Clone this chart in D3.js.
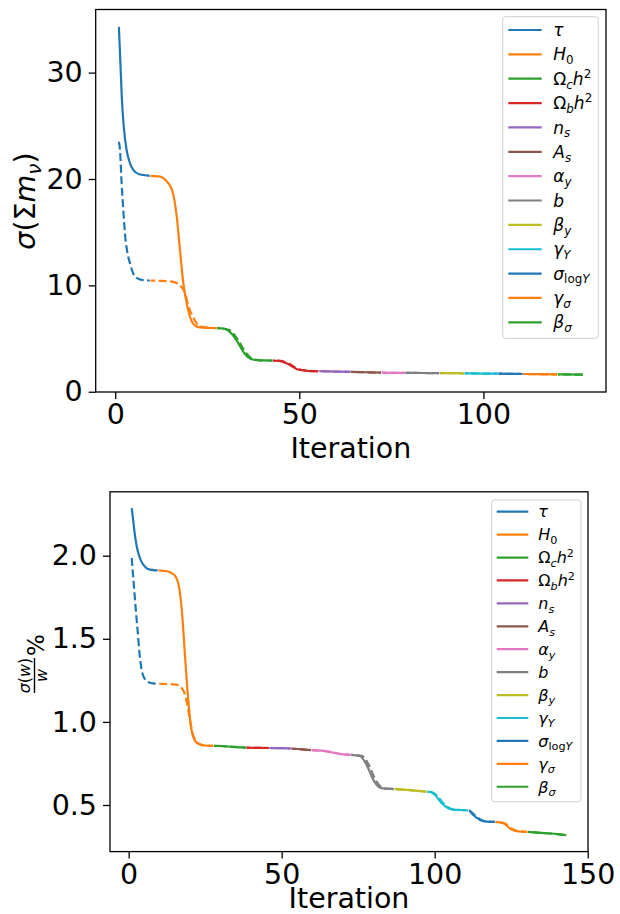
<!DOCTYPE html>
<html><head><meta charset="utf-8">
<script src="https://cdn.jsdelivr.net/npm/d3@7"></script>
<style>
body{margin:0;background:#fff}
svg text{font-family:"DejaVu Sans",sans-serif}
</style></head><body>
<svg id="chart" width="620" height="914"></svg>
<script>
// legend labels as mathtext pieces: [text, style]  (i italic, r roman, _ sub, ^ sup)
const paramLabels = [
  [["τ","i"]],
  [["H","i"],["0","_r"]],
  [["Ω","r"],["c","_i"],["h","i"],["2","^r"]],
  [["Ω","r"],["b","_i"],["h","i"],["2","^r"]],
  [["n","i"],["s","_i"]],
  [["A","i"],["s","_i"]],
  [["α","i"],["y","_i"]],
  [["b","i"]],
  [["β","i"],["y","_i"]],
  [["γ","i"],["Y","_i"]],
  [["σ","i"],["log","_r"],["Y","_i"]],
  [["γ","i"],["σ","_i"]],
  [["β","i"],["σ","_i"]]
];
const segColors = paramLabels.map((d, i) => d3.schemeCategory10[i % 10]);

// top panel: sigma(sum m_nu) vs iteration
const topBreaks = [1, 9.5, 27.6, 42.8, 55.3, 64, 72.3, 78.7, 88.1, 94.8, 104, 110.7, 120.1, 127];
const topSolid = [
  [1,34.3],[1.4,31],[1.8,27.6],[2.3,25],[3.1,22.7],[4,21.5],[4.9,20.85],[6.5,20.45],[9.5,20.3],
  [12,20.25],[13.5,19.95],[15.4,19.0],[16.7,16.5],[17.6,13.3],[18.5,10.2],[19.6,8.0],[20.8,6.6],[22,6.15],[23.1,6.05],[25,6.0],[27.6,5.98],
  [29,5.95],[30.5,5.8],[31.5,5.5],[33.1,4.75],[34.9,3.7],[36.7,3.1],[38.5,2.97],[40.3,2.94],[42.8,2.93],
  [44.5,2.9],[46.7,2.65],[49.4,2.12],[52.2,1.97],[55.3,1.93],
  [60,1.9],[64,1.87],[68,1.83],[72.3,1.79],[78.7,1.77],[84,1.76],[88.1,1.75],[94.8,1.73],[100,1.71],[104,1.7],[110.7,1.67],[115,1.65],[120.1,1.63],[127,1.61]
];
const topDashed = [
  [1,23.5],[1.3,22.7],[1.74,19.6],[2.2,17.1],[2.64,14.9],[3.2,13.3],[4,12.1],[4.8,11.2],[5.8,10.7],[7.5,10.5],[9.5,10.45],
  [12,10.43],[14,10.4],[16,10.3],[17.2,10.1],[18.2,9.75],[19,9.27],[19.9,8.0],[20.6,7.4],[21.3,6.9],[22.2,6.4],[23.1,6.15],[25,6.02],[27.6,5.98],
  [29,5.95],[31,5.8],[32,5.5],[33.6,4.75],[35.4,3.7],[37.2,3.1],[39,2.97],[40.8,2.94],[42.8,2.93],
  [45,2.9],[47.1,2.65],[49.8,2.12],[52.6,1.97],[55.3,1.93],
  [60,1.9],[64,1.87],[68,1.83],[72.3,1.79],[78.7,1.77],[84,1.76],[88.1,1.75],[94.8,1.73],[100,1.71],[104,1.7],[110.7,1.67],[115,1.65],[120.1,1.63],[127,1.61]
];
const topXTicks = [0, 50, 100];
const topYTicks = [0, 10, 20, 30];

// bottom panel: sigma(w)/w % vs iteration
const botBreaks = [1, 9.6, 27.8, 38.4, 45.9, 53.1, 59.7, 72.6, 86.8, 97.4, 111, 119.8, 130.4, 143];
const botSolid = [
  [1,2.286],[1.5,2.21],[1.86,2.15],[2.4,2.08],[2.97,2.028],[4.08,1.967],[5.7,1.927],[7,1.916],[9.6,1.911],
  [12,1.908],[14,1.896],[15.6,1.866],[16.7,1.785],[17.5,1.642],[18.4,1.40],[19.5,1.127],[20.6,0.945],[22.3,0.873],[25,0.858],[27.8,0.856],
  [30,0.855],[34,0.85],[38.4,0.845],[42,0.844],[45.9,0.843],[50,0.842],[53.1,0.84],[56,0.836],[59.7,0.83],[63,0.827],[66,0.818],[68,0.81],[70,0.805],[72.6,0.802],[74.5,0.798],
  [75.6,0.795],[77.8,0.74],[80,0.65],[82.2,0.604],[84,0.598],[86.8,0.596],[92,0.59],[97.4,0.58],
  [98.5,0.578],[100.1,0.56],[102.3,0.51],[104.4,0.48],[106,0.472],[108.3,0.47],[111,0.468],
  [112.6,0.44],[114.8,0.41],[117,0.4],[119.8,0.398],
  [122.4,0.39],[124.6,0.359],[126.8,0.343],[128.5,0.34],[130.4,0.338],
  [135,0.332],[140.9,0.323],[143,0.318]
];
const botDashed = [
  [1,1.987],[1.4,1.89],[1.86,1.785],[2.4,1.66],[2.97,1.54],[3.5,1.42],[4.1,1.33],[4.6,1.285],[5.4,1.255],[6.3,1.24],[8,1.232],[9.6,1.23],
  [12,1.228],[14,1.226],[16.2,1.222],[17.3,1.205],[18.4,1.165],[19.2,1.1],[20,1.015],[20.9,0.93],[21.7,0.895],[22.8,0.87],[23.9,0.86],[27.8,0.856],
  [30,0.855],[34,0.85],[38.4,0.845],[42,0.844],[45.9,0.843],[50,0.842],[53.1,0.84],[56,0.836],[59.7,0.83],[63,0.827],[66.5,0.818],[68.5,0.81],[70.5,0.805],[72.6,0.802],[75,0.798],
  [76.3,0.795],[78.5,0.74],[80.7,0.65],[82.9,0.604],[84.5,0.598],[86.8,0.596],[92,0.59],[97.4,0.58],
  [99,0.578],[100.6,0.56],[102.8,0.51],[104.9,0.48],[106.5,0.472],[108.3,0.47],[111,0.468],
  [113,0.44],[115.2,0.41],[117.4,0.4],[119.8,0.398],
  [122.8,0.39],[125,0.359],[127.2,0.343],[128.8,0.34],[130.4,0.338],
  [135,0.332],[140.9,0.323],[143,0.318]
];
const botXTicks = [0, 50, 100, 150];
const botYTicks = [0.5, 1.0, 1.5, 2.0];

const svg = d3.select("#chart");
const FS = 28.5;  // tick / axis label font size

function mathText(sel, parts, fs) {
  let shift = 0;
  parts.forEach(([t, s]) => {
    const sub = s[0] === "_", sup = s[0] === "^";
    const target = sub ? 0.22 : sup ? -0.42 : 0;
    sel.append("tspan").text(t)
      .attr("dy", (target - shift) * fs)
      .attr("font-size", (sub || sup) ? fs * 0.7 : fs)
      .attr("font-style", s.endsWith("i") ? "italic" : "normal");
    shift = target;
  });
}

// matplotlib-like 5% margins
function padExtent(e) {
  const r = e[1] - e[0];
  return [e[0] - 0.05 * r, e[1] + 0.05 * r];
}

function panel(o) {
  const all = o.solid.concat(o.dashed);
  const x = d3.scaleLinear().domain(padExtent(d3.extent(all, d => d[0]))).range([o.left, o.right]);
  const y = d3.scaleLinear().domain(padExtent(d3.extent(all, d => d[1]))).range([o.bottom, o.top]);
  const g = svg.append("g");

  const line = d3.line().x(d => x(d[0])).y(d => y(d[1])).curve(d3.curveMonotoneX);

  o.breaks.slice(0, -1).forEach((b0, i) => {
    const b1 = o.breaks[i + 1];
    const x0 = i === 0 ? x(b0) - 3 : x(b0) + 0.4;
    const x1 = i === o.breaks.length - 2 ? x(b1) + 3 : x(b1) - 0.4;
    const id = o.id + "clip" + i;
    g.append("clipPath").attr("id", id).append("rect")
      .attr("x", x0).attr("width", x1 - x0).attr("y", 0).attr("height", 914);
    g.append("path").datum(o.dashed)
      .attr("d", line).attr("clip-path", `url(#${id})`)
      .attr("fill", "none").attr("stroke", segColors[i]).attr("stroke-width", 2.2)
      .attr("stroke-dasharray", "8,3.5");
    g.append("path").datum(o.solid)
      .attr("d", line).attr("clip-path", `url(#${id})`)
      .attr("fill", "none").attr("stroke", segColors[i]).attr("stroke-width", 2.2);
  });

  // frame
  g.append("rect").attr("x", o.left).attr("y", o.top)
    .attr("width", o.right - o.left).attr("height", o.bottom - o.top)
    .attr("fill", "none").attr("stroke", "#000").attr("stroke-width", 1.3);

  const xa = g.append("g").attr("transform", `translate(0,${o.bottom})`)
    .call(d3.axisBottom(x).tickValues(o.xTicks).tickSize(7).tickPadding(5).tickFormat(d3.format("d")));
  const ya = g.append("g").attr("transform", `translate(${o.left},0)`)
    .call(d3.axisLeft(y).tickValues(o.yTicks).tickSize(7).tickPadding(6).tickFormat(o.yFmt));
  [xa, ya].forEach(a => {
    a.select(".domain").remove();
    a.attr("font-size", FS).attr("font-family", "DejaVu Sans");
    a.selectAll("line").attr("stroke", "#000").attr("stroke-width", 1.3);
    a.selectAll("text").attr("fill", "#000");
  });

  g.append("text").attr("x", (o.left + o.right) / 2).attr("y", o.xLabelY)
    .attr("text-anchor", "middle").attr("font-size", FS).text("Iteration");

  // legend
  const L = o.legend;
  const lg = g.append("g");
  lg.append("rect").attr("x", L.l).attr("y", L.t).attr("width", L.r - L.l).attr("height", L.b - L.t)
    .attr("rx", 3).attr("fill", "#fff").attr("fill-opacity", 0.8)
    .attr("stroke", "#d0d0d0").attr("stroke-width", 1);
  paramLabels.forEach((lab, i) => {
    const yy = L.y0 + i * L.dy;
    lg.append("line").attr("x1", L.x1).attr("x2", L.x2).attr("y1", yy).attr("y2", yy)
      .attr("stroke", segColors[i]).attr("stroke-width", 2.2);
    const t = lg.append("text").attr("x", L.tx).attr("y", yy + L.fs * 0.36).attr("font-size", L.fs);
    mathText(t, lab, L.fs);
  });
  return g;
}

panel({
  id: "top", left: 95.7, right: 606, top: 9.5, bottom: 392,
  solid: topSolid, dashed: topDashed, breaks: topBreaks,
  xTicks: topXTicks, yTicks: topYTicks, yFmt: d3.format("d"), xLabelY: 457.5,
  legend: {l: 502.7, t: 16.7, r: 598.3, b: 338.3, x1: 508.3, x2: 541.7, tx: 553.3, y0: 30, dy: 24.36, fs: 17}
});

panel({
  id: "bot", left: 110, right: 588, top: 491.8, bottom: 851.6,
  solid: botSolid, dashed: botDashed, breaks: botBreaks,
  xTicks: botXTicks, yTicks: botYTicks, yFmt: d3.format(".1f"), xLabelY: 908,
  legend: {l: 491.7, t: 500, r: 581, b: 801.7, x1: 496.7, x2: 528.3, tx: 538.3, y0: 511.7, dy: 22.92, fs: 16}
});

// y labels
const yl1 = svg.append("text").attr("transform", "translate(35,201) rotate(-90)")
  .attr("text-anchor", "middle").attr("font-size", FS);
mathText(yl1, [["σ","i"],["(","r"],["Σ","r"],["m","i"],["ν","_i"],[")","r"]], FS);

const yl2 = svg.append("g").attr("transform", "translate(34.5,693) rotate(-90)");
yl2.append("line").attr("x1", 0).attr("x2", 35).attr("y1", 0).attr("y2", 0)
  .attr("stroke", "#000").attr("stroke-width", 1.4);
const num = yl2.append("text").attr("x", 17.5).attr("y", -4.5).attr("text-anchor", "middle").attr("font-size", 16);
mathText(num, [["σ","i"],["(","r"],["w","i"],[")","r"]], 16);
yl2.append("text").attr("x", 17.5).attr("y", 12).attr("text-anchor", "middle")
  .attr("font-size", 16).attr("font-style", "italic").text("w");
yl2.append("text").attr("x", 37).attr("y", 9).attr("font-size", 23).text("%");
</script>
</body></html>
